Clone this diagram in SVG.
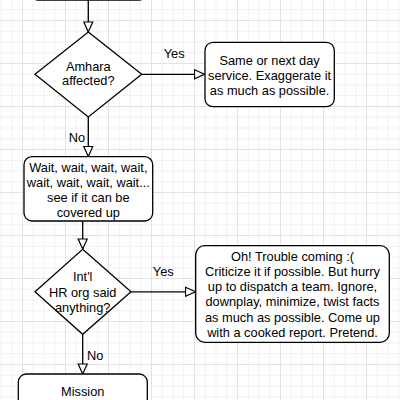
<svg xmlns="http://www.w3.org/2000/svg" width="400" height="400" viewBox="0 0 400 400">
  <style>
    .shape { fill: #ffffff; stroke: #000000; stroke-width: 1.3; }
    .edge { fill: none; stroke: #000000; stroke-width: 1.3; }
    text { font-family: "Liberation Sans", Arial, sans-serif; font-size: 12.8px; fill: #000000; text-anchor: middle; }
    .lbl { font-size: 12.8px; }
  </style>
  <defs>
    <pattern id="grid" patternUnits="userSpaceOnUse" x="22" y="20" width="43" height="43">
      <rect x="0" y="10.75" width="43" height="1" fill="#f1f1f1"/>
      <rect x="0" y="21.5" width="43" height="1" fill="#f1f1f1"/>
      <rect x="0" y="32.25" width="43" height="1" fill="#f1f1f1"/>
      <rect x="10.75" y="0" width="1" height="43" fill="#f1f1f1"/>
      <rect x="21.5" y="0" width="1" height="43" fill="#f1f1f1"/>
      <rect x="32.25" y="0" width="1" height="43" fill="#f1f1f1"/>
      <rect x="0" y="0" width="43" height="1" fill="#e2e2e2"/>
      <rect x="0" y="0" width="1" height="43" fill="#e2e2e2"/>
    </pattern>
    <marker id="arrow" markerUnits="userSpaceOnUse" viewBox="0 0 12 11" refX="11" refY="5.5" markerWidth="12" markerHeight="11" orient="auto">
      <path d="M1,1 L11,5.5 L1,10 Z" fill="#ffffff" stroke="#000000" stroke-width="1.2"/>
    </marker>
  </defs>
  <rect x="0" y="0" width="400" height="400" fill="#ffffff"/>
  <rect x="0" y="0" width="400" height="400" fill="url(#grid)"/>

  <g id="connectors">
    <path class="edge" d="M88.3,0 V32" marker-end="url(#arrow)"/>
    <path class="edge" d="M141.7,74.3 H204.5" marker-end="url(#arrow)"/>
    <path class="edge" d="M88.3,117 V156.5" marker-end="url(#arrow)"/>
    <path class="edge" d="M82.7,221 V249" marker-end="url(#arrow)"/>
    <path class="edge" d="M131,291.8 H195.5" marker-end="url(#arrow)"/>
    <path class="edge" d="M82.7,334.3 V374" marker-end="url(#arrow)"/>
    <text class="lbl" x="174.2" y="57.8">Yes</text>
    <text class="lbl" x="85" y="141.5" style="text-anchor:end">No</text>
    <text class="lbl" x="163.3" y="276.2">Yes</text>
    <text class="lbl" x="87" y="360" style="text-anchor:start">No</text>
  </g>

  <g id="top-box">
    <rect class="shape" x="30" y="-40" width="117" height="40" rx="8" ry="8" stroke="#8a8a8a"/>
  </g>

  <g id="amhara-affected">
    <polygon class="shape" points="88.3,32 141.7,74.3 88.3,117 35,74.3"/>
    <text x="88.3" y="70.5">Amhara</text>
    <text x="88.3" y="84.5">affected?</text>
  </g>

  <g id="same-day-service">
    <rect class="shape" x="205" y="42.3" width="129.3" height="64.4" rx="8" ry="8"/>
    <text x="269.6" y="64.5">Same or next day</text>
    <text x="269.6" y="79.5">service. Exaggerate it</text>
    <text x="269.6" y="94.5">as much as possible.</text>
  </g>

  <g id="wait">
    <rect class="shape" x="24" y="156.7" width="128.7" height="64.3" rx="8" ry="8"/>
    <text x="88.3" y="171.5">Wait, wait, wait, wait,</text>
    <text x="88.3" y="186.5">wait, wait, wait, wait...</text>
    <text x="88.3" y="201.5">see if it can be</text>
    <text x="88.3" y="216.5">covered up</text>
  </g>

  <g id="intl-hr-org">
    <polygon class="shape" points="82.7,249.3 131,291.8 82.7,334.3 35,291.8"/>
    <text x="82.7" y="281.2">Int'l</text>
    <text x="82.7" y="296.8">HR org said</text>
    <text x="82.7" y="312.2">anything?</text>
  </g>

  <g id="trouble-coming">
    <rect class="shape" x="195.7" y="245.7" width="193.6" height="96.6" rx="9" ry="9"/>
    <text x="292.5" y="260.5">Oh! Trouble coming :(</text>
    <text x="292.5" y="275.8">Criticize it if possible. But hurry</text>
    <text x="292.5" y="291.1">up to dispatch a team. Ignore,</text>
    <text x="292.5" y="306.4">downplay, minimize, twist facts</text>
    <text x="292.5" y="321.7">as much as possible. Come up</text>
    <text x="292.5" y="337">with a cooked report. Pretend.</text>
  </g>

  <g id="mission">
    <rect class="shape" x="18.3" y="374" width="129" height="60" rx="8" ry="8"/>
    <text x="82.7" y="396.2">Mission</text>
  </g>
</svg>
